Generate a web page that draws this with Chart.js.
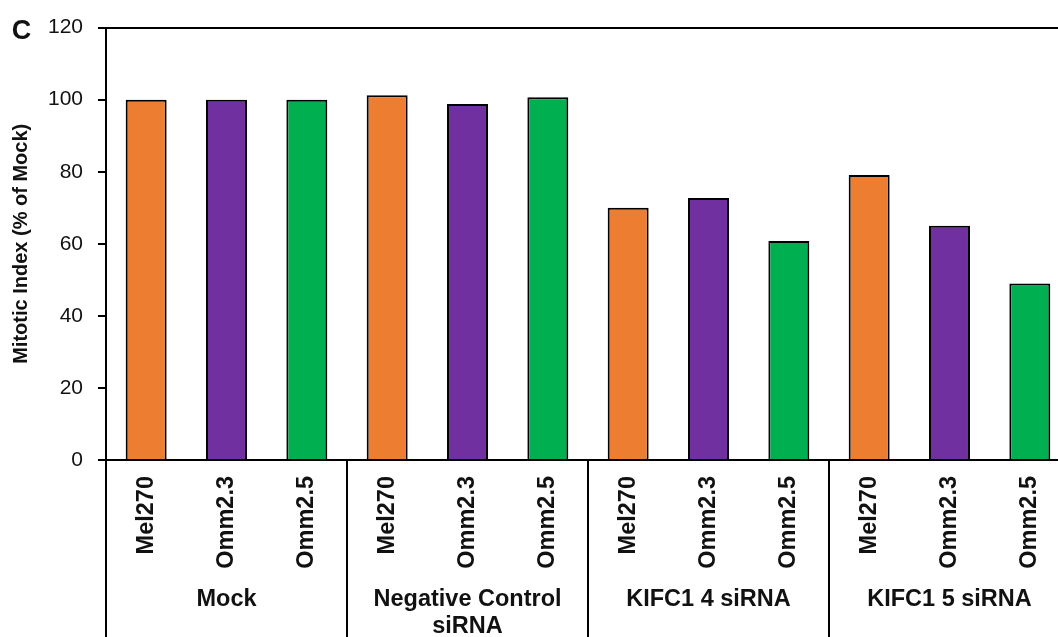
<!DOCTYPE html>
<html>
<head>
<meta charset="utf-8">
<script src="https://cdn.jsdelivr.net/npm/chart.js@4/dist/chart.umd.min.js"></script>
<style>
  html, body { margin: 0; padding: 0; background: #fff; overflow: hidden; }
  #wrap { width: 1080px; height: 637px; }
</style>
</head>
<body>
<div id="wrap"><canvas id="c" width="1080" height="637"></canvas></div>
<script>
// Treatment groups (bottom row) and cell lines (rotated tick labels)
const groups = ['Mock', ['Negative Control', 'siRNA'], 'KIFC1 4 siRNA', 'KIFC1 5 siRNA'];
const cellLines = ['Mel270', 'Omm2.3', 'Omm2.5'];
const cellColors = ['#ED7D31', '#7030A0', '#00B050'];

// Mitotic index, % of Mock, per cell line within each group
const mock      = [100, 100, 100];
const negCtrl   = [101.2, 98.8, 100.7];
const kifc1_4   = [70, 72.7, 60.8];
const kifc1_5   = [79.1, 65, 49];

const yTicks = [0, 20, 40, 60, 80, 100, 120];

const groupValues = [mock, negCtrl, kifc1_4, kifc1_5];
const labels = [];
const values = [];
const colors = [];
groupValues.forEach(g => g.forEach((v, i) => {
  labels.push(cellLines[i]);
  values.push(v);
  colors.push(cellColors[i]);
}));

const INK = '#111';

// Group separators, group names and the panel letter
const groupAxis = {
  id: 'groupAxis',
  afterDraw(chart) {
    const ctx = chart.ctx;
    const x = chart.scales.x;
    const area = chart.chartArea;
    const n = cellLines.length;
    const half = (x.getPixelForValue(1) - x.getPixelForValue(0)) / 2;
    ctx.save();
    ctx.strokeStyle = '#000';
    ctx.lineWidth = 2;
    for (let g = 0; g <= groups.length; g++) {
      const xb = Math.round(x.getPixelForValue(g * n) - half);
      ctx.beginPath();
      ctx.moveTo(xb, area.bottom);
      ctx.lineTo(xb, chart.height);
      ctx.stroke();
    }
    ctx.fillStyle = INK;
    ctx.font = 'bold 23.5px "Liberation Sans", Arial, sans-serif';
    ctx.textAlign = 'center';
    ctx.textBaseline = 'middle';
    groups.forEach((name, g) => {
      const cx = (x.getPixelForValue(g * n) + x.getPixelForValue(g * n + n - 1)) / 2;
      const lines = Array.isArray(name) ? name : [name];
      lines.forEach((t, k) => ctx.fillText(t, cx, 600 + k * 26.5));
    });
    ctx.font = 'bold 27px "Liberation Sans", Arial, sans-serif';
    ctx.textAlign = 'center';
    ctx.textBaseline = 'alphabetic';
    ctx.fillText('C', 21.5, 39);
    ctx.restore();
  }
};

new Chart(document.getElementById('c'), {
  type: 'bar',
  data: {
    labels: labels,
    datasets: [{
      data: values,
      backgroundColor: colors,
      borderColor: '#000',
      borderWidth: 2,
      barPercentage: 0.51,
      categoryPercentage: 1
    }]
  },
  options: {
    responsive: false,
    animation: false,
    layout: { padding: { top: 26, right: 10, left: 0, bottom: 0 } },
    plugins: { legend: { display: false }, tooltip: { enabled: false } },
    scales: {
      x: {
        afterFit: s => { s.height = 177; },
        grid: { display: false },
        border: { display: true, color: '#000', width: 2 },
        ticks: {
          minRotation: 90,
          maxRotation: 90,
          autoSkip: false,
          padding: 8,
          color: INK,
          font: { family: '"Liberation Sans", Arial, sans-serif', size: 23.5, weight: 'bold' }
        }
      },
      y: {
        min: 0,
        max: 120,
        afterFit: s => { s.width = 106; },
        afterBuildTicks: s => { s.ticks = yTicks.map(v => ({ value: v })); },
        border: { display: true, color: '#000', width: 2 },
        grid: {
          color: c => (c.tick && c.tick.value === 120 ? '#000' : 'rgba(0,0,0,0)'),
          tickColor: '#000',
          lineWidth: 2,
          tickLength: 8
        },
        ticks: {
          padding: 15,
          color: INK,
          font: { family: '"Liberation Sans", Arial, sans-serif', size: 21 }
        },
        title: {
          display: true,
          text: 'Mitotic Index (% of Mock)',
          color: INK,
          padding: { top: 9, bottom: 0 },
          font: { family: '"Liberation Sans", Arial, sans-serif', size: 20, weight: 'bold' }
        }
      }
    }
  },
  plugins: [groupAxis]
});
</script>
</body>
</html>
